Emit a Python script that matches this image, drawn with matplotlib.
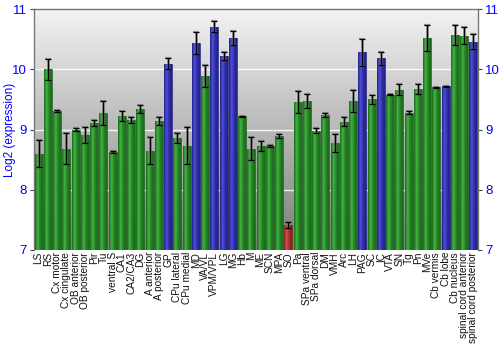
#Log2 expression per brain region, with error bars

import numpy as np
import matplotlib
matplotlib.use("Agg")
import matplotlib.pyplot as plt
from matplotlib.colors import LinearSegmentedColormap

plt.rcParams['font.family'] = ['Liberation Sans', 'DejaVu Sans']

regions = ["LS","RS","Cx motor","Cx cingulate","OB anterior","OB posterior","Pir","Tu",
           "ventral S","CA1","CA2/CA3","DG","A anterior","A posterior","GP","CPu lateral",
           "CPu medial","MD","VA/VL","VPM/VPL","LG","MG","Hb","M","ME","SCN","MPA","SO",
           "Pa","SPa ventral","SPa dorsal","DM","VMH","Arc","LH","PAG","SC","IC","VTA","SN",
           "Tg","Pn","MVe","Cb vermis","Cb lobe","Cb nucleus","spinal cord anterior",
           "spinal cord posterior"]
expr = [8.60,10.00,9.31,8.68,9.00,8.91,9.11,9.28,
        8.63,9.23,9.16,9.34,8.65,9.14,10.09,8.86,
        8.73,10.44,9.89,10.71,10.22,10.52,9.22,8.68,8.73,8.73,8.89,7.41,
        9.46,9.47,8.98,9.24,8.78,9.13,9.47,10.28,9.50,10.18,9.58,9.66,
        9.28,9.67,10.52,9.70,9.72,10.57,10.56,
        10.46]
err = [0.23,0.17,0.02,0.26,0.03,0.13,0.05,0.20,
       0.02,0.085,0.05,0.07,0.22,0.06,0.09,0.09,
       0.31,0.18,0.18,0.09,0.065,0.11,0.005,0.19,0.08,0.02,0.03,0.05,
       0.18,0.12,0.04,0.04,0.15,0.08,0.18,0.22,0.075,0.11,0.01,0.09,
       0.02,0.085,0.21,0.01,0.01,0.17,0.14,
       0.13]
# g = normal, b = high, r = low
group = ["g"]*14 + ["b"] + ["g","g","b","g","b","b","b"] + ["g"]*5 + ["r"] + \
        ["g"]*7 + ["b","g","b"] + ["g"]*6 + ["b","g","g","b","b","b"]

yMin, yMax = 7.0, 11.0
cols = {
    "g": ("#1b6a1b", "#43b443", "#228022", "#155515"),
    "b": ("#22228a", "#5050d4", "#2c2ca4", "#181870"),
    "r": ("#8a2222", "#d45050", "#a42c2c", "#701818"),
}

fig = plt.figure(figsize=(5, 3.5), dpi=100)
ax = fig.add_axes([0.068, 0.286, 0.888, 0.688])

x = np.arange(len(regions))
ax.set_xlim(-0.5, len(regions) - 0.5)
ax.set_ylim(yMin, yMax)

#Gray gradient background
bg = np.linspace(0, 1, 256).reshape(-1, 1)
bgMap = LinearSegmentedColormap.from_list("bg", ["#7d7d7d", "#f3f3f3"])
ax.imshow(bg, aspect="auto", cmap=bgMap, origin="lower",
          extent=(-0.5, len(regions) - 0.5, yMin, yMax), zorder=0)

for yv in [8, 9, 10]:
    ax.axhline(yv, color="white", lw=1.0, alpha=0.85, zorder=1)

bw = 0.84
hg = np.linspace(0, 1, 64).reshape(1, -1)
for i in range(len(regions)):
    c = cols[group[i]]
    b = ax.bar(x[i], expr[i] - yMin, bottom=yMin, width=bw, color=c[2],
               edgecolor=c[3], lw=0.4, zorder=2)[0]
    bMap = LinearSegmentedColormap.from_list("bar", [c[0], c[1], c[2], c[0]])
    im = ax.imshow(hg, aspect="auto", cmap=bMap,
                   extent=(x[i] - bw/2, x[i] + bw/2, yMin, expr[i]), zorder=3)
    im.set_clip_path(b)

ax.errorbar(x, expr, yerr=err, fmt="none", ecolor="#6a6a6a", elinewidth=2.0,
            capsize=2.2, capthick=1.6, alpha=0.6, zorder=4)
ax.errorbar(x, expr, yerr=err, fmt="none", ecolor="black", elinewidth=0.9,
            capsize=2.0, capthick=0.9, zorder=5)

ax.set_xlim(-0.5, len(regions) - 0.5)
ax.set_ylim(yMin, yMax)

ax.set_xticks(x)
ax.set_xticklabels(regions, rotation=90, fontsize=7.3, color="#111111")
ax.tick_params(axis="x", length=0, pad=1.5)

ax.set_yticks([7, 8, 9, 10, 11])
ax.tick_params(axis="y", labelsize=9.5, labelcolor="#0000ff", length=3,
               color="#444444", width=0.8, right=True, labelright=True, pad=2)
ax.set_ylabel("Log2 (expression)", color="#0000ff", fontsize=8.5)
ax.yaxis.set_label_coords(-0.041, 0.5)

for s in ["left", "right", "top"]:
    ax.spines[s].set_color("#777777")
    ax.spines[s].set_linewidth(1.0)
ax.spines["bottom"].set_visible(False)

fig.savefig("out.png", dpi=100)
